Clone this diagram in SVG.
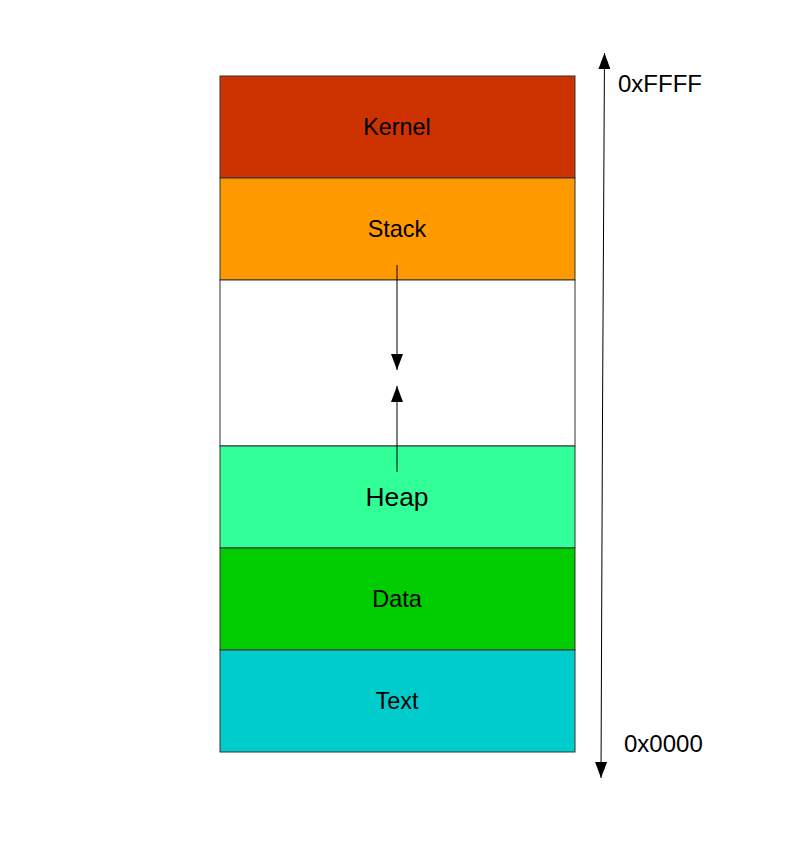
<svg xmlns="http://www.w3.org/2000/svg" width="794" height="848" viewBox="0 0 794 848">
<style>
.seg{stroke:#333;stroke-width:1}
.lbl{font-family:"Liberation Sans",Arial,sans-serif;font-size:23.4px;fill:#000;text-anchor:middle;dominant-baseline:central}
.addr{font-family:"Liberation Sans",Arial,sans-serif;font-size:24px;fill:#000}
.ln{stroke:#000;stroke-width:1;fill:none}
</style>
<defs>
<marker id="ah" viewBox="0 0 16 12" refX="16" refY="6" markerWidth="16" markerHeight="12" markerUnits="userSpaceOnUse" orient="auto">
<path d="M0,0 L16,6 L0,12 Z" fill="#000"/>
</marker>
</defs>
<rect width="794" height="848" fill="#fff"/>
<g id="kernel"><rect class="seg" x="220" y="76" width="355" height="102" fill="#cc3300"/><text class="lbl" x="397" y="126.5">Kernel</text></g>
<g id="stack"><rect class="seg" x="220" y="178" width="355" height="102" fill="#ff9900"/><text class="lbl" x="397" y="228.5">Stack</text></g>
<g id="free"><rect class="seg" x="220" y="280" width="355" height="166" fill="#fff"/></g>
<g id="heap"><rect class="seg" x="220" y="446" width="355" height="102" fill="#33ff99"/><text class="lbl" x="397" y="496.5" style="font-size:26.4px">Heap</text></g>
<g id="data"><rect class="seg" x="220" y="548" width="355" height="102" fill="#00cc00"/><text class="lbl" x="397" y="598.5">Data</text></g>
<g id="text"><rect class="seg" x="220" y="650" width="355" height="102" fill="#00cccc"/><text class="lbl" x="397" y="700.5">Text</text></g>
<g id="connectors">
<line class="ln" x1="397" y1="265" x2="397" y2="370" marker-end="url(#ah)"/>
<line class="ln" x1="397" y1="472" x2="397" y2="386" marker-end="url(#ah)"/>
<line class="ln" x1="602.5" y1="416" x2="604.5" y2="53" marker-end="url(#ah)"/>
<line class="ln" x1="602.5" y1="416" x2="601" y2="778" marker-end="url(#ah)"/>
</g>
<g id="labels">
<text class="addr" x="618" y="92">0xFFFF</text>
<text class="addr" x="624" y="752">0x0000</text>
</g>
</svg>
